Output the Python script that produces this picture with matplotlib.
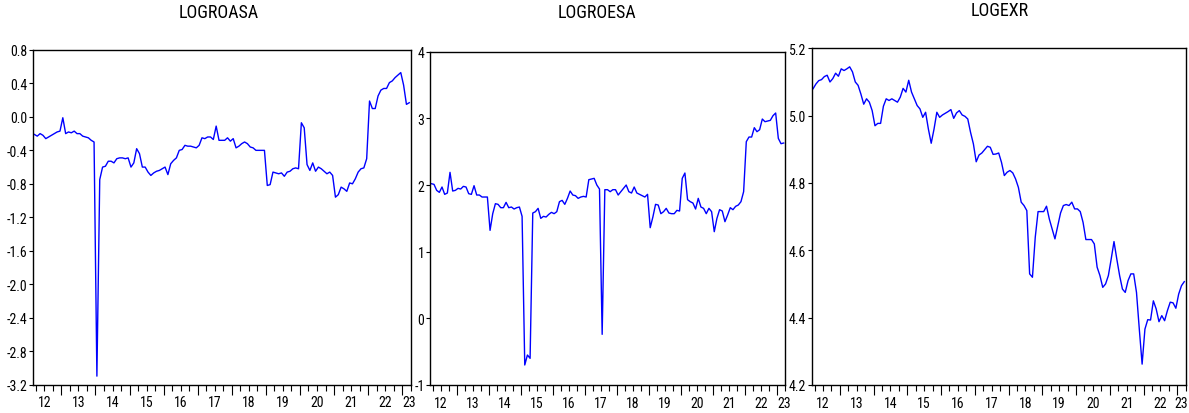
import matplotlib
matplotlib.use("Agg")
import matplotlib.pyplot as plt
import numpy as np
from matplotlib import font_manager
from matplotlib.font_manager import FontProperties
from matplotlib.transforms import blended_transform_factory

# ---------------- data (monthly, 2012M03 .. 2023M03) ----------------
start_year = 2012
start_month = 3
titles = ["LOGROASA", "LOGROESA", "LOGEXR"]

logroasa = [
    -0.21, -0.23, -0.20, -0.22, -0.26, -0.24, -0.22, -0.20, -0.18, -0.17,
    -0.01, -0.20, -0.18, -0.19, -0.17, -0.20, -0.20, -0.23, -0.24, -0.25,
    -0.28, -0.30, -3.10, -0.75, -0.60, -0.59, -0.53, -0.53, -0.55, -0.50,
    -0.49, -0.49, -0.50, -0.49, -0.60, -0.55, -0.38, -0.44, -0.60, -0.60,
    -0.66, -0.70, -0.67, -0.65, -0.64, -0.62, -0.60, -0.69, -0.56, -0.52,
    -0.49, -0.40, -0.39, -0.34, -0.35, -0.35, -0.36, -0.37, -0.34, -0.25,
    -0.26, -0.24, -0.24, -0.27, -0.11, -0.28, -0.28, -0.28, -0.25, -0.29,
    -0.26, -0.37, -0.35, -0.32, -0.30, -0.32, -0.36, -0.37, -0.40, -0.40,
    -0.40, -0.40, -0.82, -0.81, -0.66, -0.67, -0.68, -0.67, -0.71, -0.66,
    -0.65, -0.62, -0.61, -0.62, -0.07, -0.13, -0.57, -0.64, -0.55, -0.65,
    -0.60, -0.62, -0.65, -0.68, -0.66, -0.70, -0.96, -0.93, -0.84, -0.86,
    -0.89, -0.79, -0.80, -0.74, -0.66, -0.62, -0.61, -0.50, 0.19, 0.10,
    0.10, 0.25, 0.32, 0.34, 0.34, 0.41, 0.43, 0.47, 0.50, 0.53,
    0.38, 0.15, 0.17,
]

logroesa = [
    2.02, 2.01, 1.92, 1.89, 1.97, 1.86, 1.88, 2.19, 1.91, 1.92,
    1.95, 1.94, 1.98, 1.97, 1.87, 1.86, 1.99, 1.85, 1.85, 1.82,
    1.82, 1.82, 1.32, 1.57, 1.72, 1.71, 1.66, 1.66, 1.74, 1.66,
    1.67, 1.64, 1.66, 1.67, 1.53, -0.70, -0.55, -0.60, 1.58, 1.60,
    1.65, 1.50, 1.53, 1.52, 1.56, 1.59, 1.57, 1.60, 1.75, 1.77,
    1.71, 1.80, 1.91, 1.85, 1.84, 1.80, 1.82, 1.83, 1.82, 2.08,
    2.09, 2.10, 2.00, 1.94, -0.24, 1.93, 1.93, 1.90, 1.93, 1.93,
    1.85, 1.90, 1.95, 2.00, 1.90, 1.88, 1.97, 1.88, 1.86, 1.84,
    1.82, 1.86, 1.36, 1.52, 1.71, 1.70, 1.57, 1.60, 1.65, 1.58,
    1.57, 1.57, 1.62, 1.61, 2.10, 2.18, 1.78, 1.75, 1.73, 1.64,
    1.80, 1.67, 1.65, 1.57, 1.65, 1.60, 1.30, 1.50, 1.63, 1.61,
    1.45, 1.55, 1.66, 1.63, 1.68, 1.70, 1.75, 1.90, 2.65, 2.72,
    2.72, 2.86, 2.80, 2.83, 2.99, 2.95, 2.96, 2.97, 3.04, 3.08,
    2.70, 2.62, 2.63,
]

logexr = [
    5.080, 5.094, 5.104, 5.107, 5.116, 5.120, 5.100, 5.110, 5.126, 5.117,
    5.139, 5.134, 5.139, 5.145, 5.130, 5.100, 5.090, 5.064, 5.034, 5.050,
    5.040, 5.015, 4.970, 4.977, 4.977, 5.028, 5.050, 5.045, 5.050, 5.045,
    5.040, 5.055, 5.081, 5.070, 5.105, 5.070, 5.050, 5.030, 5.020, 4.995,
    5.010, 4.960, 4.918, 4.960, 5.010, 4.995, 5.002, 5.007, 5.012, 5.018,
    4.992, 5.008, 5.015, 5.002, 4.998, 4.990, 4.950, 4.916, 4.863, 4.883,
    4.889, 4.899, 4.909, 4.906, 4.885, 4.886, 4.889, 4.861, 4.822, 4.832,
    4.837, 4.830, 4.812, 4.787, 4.743, 4.733, 4.718, 4.530, 4.520, 4.639,
    4.715, 4.715, 4.715, 4.731, 4.693, 4.663, 4.634, 4.673, 4.711, 4.733,
    4.736, 4.733, 4.743, 4.723, 4.723, 4.715, 4.683, 4.632, 4.632, 4.632,
    4.619, 4.550, 4.525, 4.490, 4.500, 4.525, 4.574, 4.626, 4.574, 4.525,
    4.485, 4.475, 4.510, 4.530, 4.530, 4.475, 4.366, 4.262, 4.366, 4.394,
    4.393, 4.450, 4.426, 4.388, 4.406, 4.391, 4.421, 4.446, 4.444, 4.428,
    4.470, 4.495, 4.507,
]

series = [logroasa, logroesa, logexr]
y_limits = [(-3.2, 0.8), (-1.0, 4.0), (4.2, 5.2)]
y_ticks = [
    [-3.2, -2.8, -2.4, -2.0, -1.6, -1.2, -0.8, -0.4, 0.0, 0.4, 0.8],
    [-1, 0, 1, 2, 3, 4],
    [4.2, 4.4, 4.6, 4.8, 5.0, 5.2],
]
y_ticklabels = [
    ["-3.2", "-2.8", "-2.4", "-2.0", "-1.6", "-1.2", "-0.8", "-0.4", "0.0", "0.4", "0.8"],
    ["-1", "0", "1", "2", "3", "4"],
    ["4.2", "4.4", "4.6", "4.8", "5.0", "5.2"],
]
year_labels = ["12", "13", "14", "15", "16", "17", "18", "19", "20", "21", "22", "23"]

# ---------------- fonts: prefer a narrow Arial-like face if one exists ----------------
narrow_file = None
prefs = ["liberation sans narrow", "arial narrow", "roboto condensed", "open sans condensed",
         "noto sans condensed", "noto sans display condensed", "dejavu sans condensed"]
entries = font_manager.fontManager.ttflist
for pref in prefs:
    for f in entries:
        nm = (f.name + " " + f.fname.split("/")[-1]).lower()
        fn = f.fname.split("/")[-1].lower()
        key = pref.replace(" ", "")
        if (pref in nm or key in fn.replace("-", "").replace("_", "")) and f.weight in (400, "normal", "regular") \
                and f.style == "normal":
            narrow_file = f.fname
            break
    if narrow_file:
        break

def fp(size):
    if narrow_file:
        return FontProperties(fname=narrow_file, size=size)
    return FontProperties(family=["Liberation Sans", "DejaVu Sans"], size=size)

tick_size = 10 if narrow_file else 9.5
title_size = 13 if narrow_file else 11

# ---------------- layout ----------------
W, H = 1189, 414
boxes = [(33, 410.7, 51, 385.5), (430, 785, 52.7, 386), (811.7, 1185.7, 49.3, 386)]
title_pos = [(219, 13.5), (597, 13.5), (1000, 11)]

fig = plt.figure(figsize=(W / 100, H / 100), dpi=100)

n = len(logroasa)
x = np.array([start_year + (start_month - 1 + i + 0.5) / 12.0 for i in range(n)])
xmin = start_year + (start_month - 1) / 12.0
xmax = start_year + (start_month - 1 + n) / 12.0

for k in range(3):
    l, r, t, b = boxes[k]
    ax = fig.add_axes([l / W, 1 - b / H, (r - l) / W, (b - t) / H])
    ax.plot(x, series[k], color="#0000ff", linewidth=1.0)
    ax.set_xlim(xmin, xmax)
    ax.set_ylim(*y_limits[k])
    ax.set_yticks(y_ticks[k])
    ax.set_yticklabels(y_ticklabels[k], fontproperties=fp(tick_size))
    ax.tick_params(axis="y", direction="out", length=3, width=0.8, pad=1, colors="black")
    # x ticks: long at year boundaries, short at quarters
    years = np.arange(2013, 2024)
    ax.set_xticks(years)
    ax.set_xticklabels([])
    quarters = [q / 4.0 for q in range(int(xmin * 4) + 1, int(xmax * 4) + 1) if q % 4 != 0]
    ax.set_xticks(quarters, minor=True)
    ax.tick_params(axis="x", which="major", direction="out", length=7, width=0.8)
    ax.tick_params(axis="x", which="minor", direction="out", length=4, width=0.8)
    for s in ax.spines.values():
        s.set_linewidth(1.0)
        s.set_color("black")
    trans = blended_transform_factory(ax.transData, ax.transAxes)
    for j, lab in enumerate(year_labels):
        xc = 2012 + j + 0.5
        ha = "center"
        if xc > xmax:
            xc = xmax - 0.04
            if k == 2:
                xc = xmax + 0.06
                ha = "right"
        ax.text(xc, -18 / (b - t), lab, transform=trans, ha=ha, va="center",
                fontproperties=fp(tick_size), clip_on=False)
    fig.text(title_pos[k][0] / W, 1 - title_pos[k][1] / H, titles[k], ha="center", va="center",
             fontproperties=fp(title_size))

fig.savefig("out.png", dpi=100)
